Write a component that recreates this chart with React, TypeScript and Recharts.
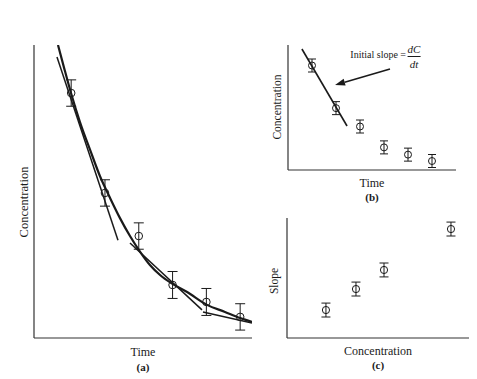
import { ComposedChart, Scatter, Line, XAxis, YAxis, ErrorBar, ReferenceLine } from "recharts"

// shared measurements (same samples in a and b)
const time = [1, 2, 3, 4, 5, 6]
const concentration = [83.6, 49.5, 34.8, 18.1, 12.3, 7.2]
const errA = [4.5, 4.5, 4.5, 4.6, 4.6, 4.5]
const errB = [5.2, 5.2, 5.2, 5.2, 5.2, 5.2]

// fitted curve in (a)
const curveT = [0.61, 0.79, 0.995, 1.26, 1.56, 1.85, 2.15, 2.44, 2.74, 3.04, 3.33, 3.63, 3.95, 4.43, 5.02, 5.55, 6.0, 6.35]
const curveC = [100, 92.2, 83.6, 73.7, 64.2, 55.3, 47.8, 41.0, 34.8, 29.4, 24.9, 21.5, 18.8, 15.7, 11.3, 8.9, 6.8, 5.5]

// tangent segments in (a): [t0, t1], [c0, c1]
const tangentT = [[0.58, 2.385], [2.74, 4.87], [4.9, 6.35]]
const tangentC = [[95.9, 33.4], [32.4, 9.6], [8.9, 5.1]]

// initial slope line in (b)
const slopeLineT = [0.58, 2.46]
const slopeLineC = [96.8, 35.2]
const arrowFrom = { x: 4.25, y: 80.8 }
const arrowTo = { x: 1.96, y: 68 }

// (c) slope vs concentration
const concC = [21.4, 37.9, 53.3, 90.1]
const slope = [23.3, 40.8, 56.7, 90.8]
const errC = [5.8, 5.8, 5.8, 5.8]

const pointsA = time.map((t, i) => ({ x: t, y: concentration[i], err: errA[i] }))
const pointsB = time.map((t, i) => ({ x: t, y: concentration[i], err: errB[i] }))
const pointsC = concC.map((c, i) => ({ x: c, y: slope[i], err: errC[i] }))
const curveA = curveT.map((t, i) => ({ x: t, y: curveC[i] }))
const tangents = tangentT.map((ts, k) => ts.map((t, i) => ({ x: t, y: tangentC[k][i] })))
const slopeLine = slopeLineT.map((t, i) => ({ x: t, y: slopeLineC[i] }))

const ink = "#1a1a1a"
const serif = "'Liberation Serif', 'DejaVu Serif', serif"

const ring = (r: number) => (p: any) => (
  <circle cx={p.cx} cy={p.cy} r={r} fill="none" stroke={ink} strokeWidth={1} />
)

const Arrow = (p: any) => {
  const { x1, y1, x2, y2 } = p
  const a = Math.atan2(y2 - y1, x2 - x1)
  const len = 10
  const w = 3.5
  const bx = x2 - len * Math.cos(a)
  const by = y2 - len * Math.sin(a)
  const pts = `${x2},${y2} ${bx + w * Math.sin(a)},${by - w * Math.cos(a)} ${bx - w * Math.sin(a)},${by + w * Math.cos(a)}`
  return (
    <g>
      <line x1={x1} y1={y1} x2={bx} y2={by} stroke={ink} strokeWidth={1.6} />
      <polygon points={pts} fill={ink} />
    </g>
  )
}

const Text = ({ x, y, size = 12, bold = false, rotate = false, children }: any) => (
  <div
    style={{
      position: "absolute",
      left: x,
      top: y,
      transform: `translate(-50%, -50%)${rotate ? " rotate(-90deg)" : ""}`,
      fontFamily: serif,
      fontSize: size,
      fontWeight: bold ? 700 : 400,
      color: ink,
      whiteSpace: "nowrap",
      lineHeight: 1,
    }}
  >
    {children}
  </div>
)

const axisProps = { tick: false, tickLine: false, axisLine: { stroke: "#333", strokeWidth: 1.2 }, allowDataOverflow: true }

export default function App() {
  return (
    <div style={{ position: "fixed", left: 0, top: 0, width: 477, height: 379, background: "#fff" }}>
      {/* (a) */}
      <div style={{ position: "absolute", left: 0, top: 0 }}>
        <ComposedChart width={270} height={379} margin={{ top: 45, right: 18, bottom: 40, left: 33 }}>
          <XAxis type="number" dataKey="x" domain={[-0.1, 6.35]} height={1} {...axisProps} />
          <YAxis type="number" dataKey="y" domain={[0, 100]} width={1} {...axisProps} />
          <Line data={curveA} dataKey="y" type="monotone" stroke={ink} strokeWidth={2.2} dot={false} isAnimationActive={false} />
          {tangents.map((seg, k) => (
            <Line key={k} data={seg} dataKey="y" type="linear" stroke={ink} strokeWidth={1.5} dot={false} isAnimationActive={false} />
          ))}
          <Scatter data={pointsA} shape={ring(3.8)} isAnimationActive={false}>
            <ErrorBar dataKey="err" direction="y" width={5} stroke={ink} strokeWidth={1} />
          </Scatter>
        </ComposedChart>
      </div>

      {/* (b) */}
      <div style={{ position: "absolute", left: 270, top: 0 }}>
        <ComposedChart width={207} height={210} margin={{ top: 45, right: 21, bottom: 39, left: 17 }}>
          <XAxis type="number" dataKey="x" domain={[0, 7]} height={1} {...axisProps} />
          <YAxis type="number" dataKey="y" domain={[0, 100]} width={1} {...axisProps} />
          <Line data={slopeLine} dataKey="y" type="linear" stroke={ink} strokeWidth={1.6} dot={false} isAnimationActive={false} />
          <ReferenceLine segment={[arrowFrom, arrowTo]} ifOverflow="visible" shape={Arrow} />
          <Scatter data={pointsB} shape={ring(3.5)} isAnimationActive={false}>
            <ErrorBar dataKey="err" direction="y" width={4} stroke={ink} strokeWidth={1} />
          </Scatter>
        </ComposedChart>
      </div>

      {/* (c) */}
      <div style={{ position: "absolute", left: 270, top: 210 }}>
        <ComposedChart width={207} height={169} margin={{ top: 8, right: 8, bottom: 40, left: 16 }}>
          <XAxis type="number" dataKey="x" domain={[0, 100]} height={1} {...axisProps} />
          <YAxis type="number" dataKey="y" domain={[0, 100]} width={1} {...axisProps} />
          <Scatter data={pointsC} shape={ring(3.6)} isAnimationActive={false}>
            <ErrorBar dataKey="err" direction="y" width={4.5} stroke={ink} strokeWidth={1} />
          </Scatter>
        </ComposedChart>
      </div>

      {/* labels */}
      <Text x={24} y={202} size={12.5} rotate>Concentration</Text>
      <Text x={143} y={352} size={12}>Time</Text>
      <Text x={143} y={367} size={11} bold>(a)</Text>

      <Text x={278} y={107} size={11.5} rotate>Concentration</Text>
      <Text x={372} y={183} size={12}>Time</Text>
      <Text x={372} y={197} size={11} bold>(b)</Text>

      <div
        style={{
          position: "absolute",
          right: 477 - 406,
          top: 55,
          transform: "translateY(-50%)",
          fontFamily: serif,
          fontSize: 10,
          lineHeight: 1,
          color: ink,
          whiteSpace: "nowrap",
        }}
      >
        Initial slope =
      </div>
      <div
        style={{
          position: "absolute",
          left: 414,
          top: 57,
          transform: "translate(-50%, -50%)",
          display: "flex",
          flexDirection: "column",
          alignItems: "center",
          fontFamily: serif,
          fontStyle: "italic",
          fontSize: 11,
          lineHeight: 1,
          color: ink,
        }}
      >
        <span style={{ padding: "0 1px 1px" }}>dC</span>
        <span style={{ borderTop: `1px solid ${ink}`, padding: "2px 2px 0" }}>dt</span>
      </div>

      <Text x={275} y={281} size={11.5} rotate>Slope</Text>
      <Text x={378} y={351} size={12}>Concentration</Text>
      <Text x={378} y={365} size={11} bold>(c)</Text>
    </div>
  )
}
